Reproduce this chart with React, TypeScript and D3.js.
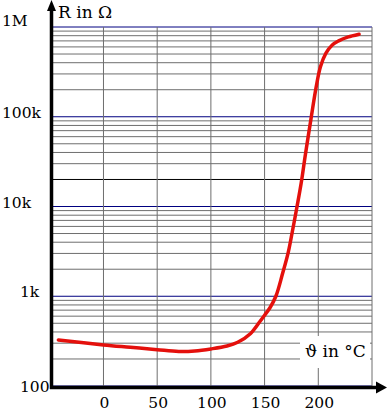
import React from "react";
import * as d3 from "d3";

// PTC thermistor curve
const temps = [-42, 0, 25, 50, 70, 85, 100, 115, 125, 137, 146, 150, 155, 160.5, 166.8, 171.8, 175.5, 180.2, 184, 188, 193.5, 198, 202, 207, 213, 219, 228, 238];
const ohms = [326, 287, 270, 254, 243, 246, 259, 279, 307, 385, 530, 615, 745, 1000, 1800, 3000, 5000, 10000, 18000, 38000, 100000, 214000, 360000, 507000, 630000, 700000, 775000, 830000];

const xTicks = [0, 50, 100, 150, 200];
const xGrid = [0, 50, 100, 150, 200, 250];
const decades = [100, 1000, 10000, 100000, 1000000];
const decadeLabels = ["100", "1k", "10k", "100k", "1M"];

const W = 387;
const H = 412;
const font = "'DejaVu Serif', 'Liberation Serif', 'Times New Roman', serif";

const App = () => {
  const x = d3.scaleLinear().domain([-47, 250]).range([53, 372]);
  const y = d3.scaleLog().domain([100, 1e6]).range([386, 27]);

  // minor lines 2..9 in every decade
  const minor: number[] = [];
  decades.slice(0, -1).forEach((d) => {
    for (let k = 2; k <= 9; k++) minor.push(d * k);
  });

  const pts = temps.map((t, i) => [t, ohms[i]] as [number, number]);
  const path = d3
    .line<[number, number]>()
    .x((d) => x(d[0]))
    .y((d) => y(d[1]))
    .curve(d3.curveCatmullRom.alpha(0.5))(pts);

  const x0 = x.range()[0];
  const x1 = x.range()[1];
  const yTop = y(1e6);
  const yBase = y(100) + 1.5;
  const axisX = 51.5;

  return (
    <svg width={W} height={H} style={{ position: "absolute", left: 0, top: 0, background: "#fff" }}>
      {/* horizontal grid */}
      {minor.map((v) => (
        <line key={"m" + v} x1={x0} x2={x1} y1={y(v)} y2={y(v)}
          stroke={v === 20000 ? "#000" : "#6e6e6e"} strokeWidth={1} />
      ))}
      {decades.map((v) => (
        <line key={"d" + v} x1={x0} x2={x1} y1={y(v)} y2={y(v)} stroke="#000080" strokeWidth={1} />
      ))}
      {/* vertical grid */}
      {xGrid.map((t) => (
        <line key={"v" + t} x1={x(t)} x2={x(t)} y1={yTop} y2={yBase} stroke="#6e6e6e" strokeWidth={1} />
      ))}

      {/* curve */}
      <path d={path || ""} fill="none" stroke="#e4100c" strokeWidth={3.5} strokeLinecap="round" strokeLinejoin="round" />

      {/* x axis label box */}
      <rect x={300} y={336} width={70} height={32} fill="#fff" />
      <text x={305} y={357} fontFamily={font} fontSize={17} fill="#000">ϑ in °C</text>

      {/* axes */}
      <line x1={axisX - 1.5} x2={377} y1={yBase} y2={yBase} stroke="#000" strokeWidth={3.5} />
      <path d={`M387,${yBase} L376,${yBase - 6} L376,${yBase + 6} Z`} fill="#000" />
      <line x1={axisX} x2={axisX} y1={yBase + 1.5} y2={9} stroke="#000" strokeWidth={3.5} />
      <path d={`M${axisX},0 L${axisX - 4.5},11 L${axisX + 4.5},11 Z`} fill="#000" />

      <text x={58} y={18} fontFamily={font} fontSize={17} fill="#000">R in Ω</text>

      {/* y tick labels */}
      {decades.map((v, i) => (
        <text key={"yl" + v} x={v < 10000 ? 20 : 2} y={y(v) + (v === 100 ? 6 : v === 1e6 ? -1.5 : 1)}
          fontFamily={font} fontSize={15.5} fill="#000">
          {decadeLabels[i]}
        </text>
      ))}

      {/* x tick labels */}
      {xTicks.map((t) => (
        <text key={"xl" + t} x={x(t) + 1} y={407.5} textAnchor="middle"
          fontFamily={font} fontSize={15.5} fill="#000">
          {t}
        </text>
      ))}
    </svg>
  );
};

export default App;
